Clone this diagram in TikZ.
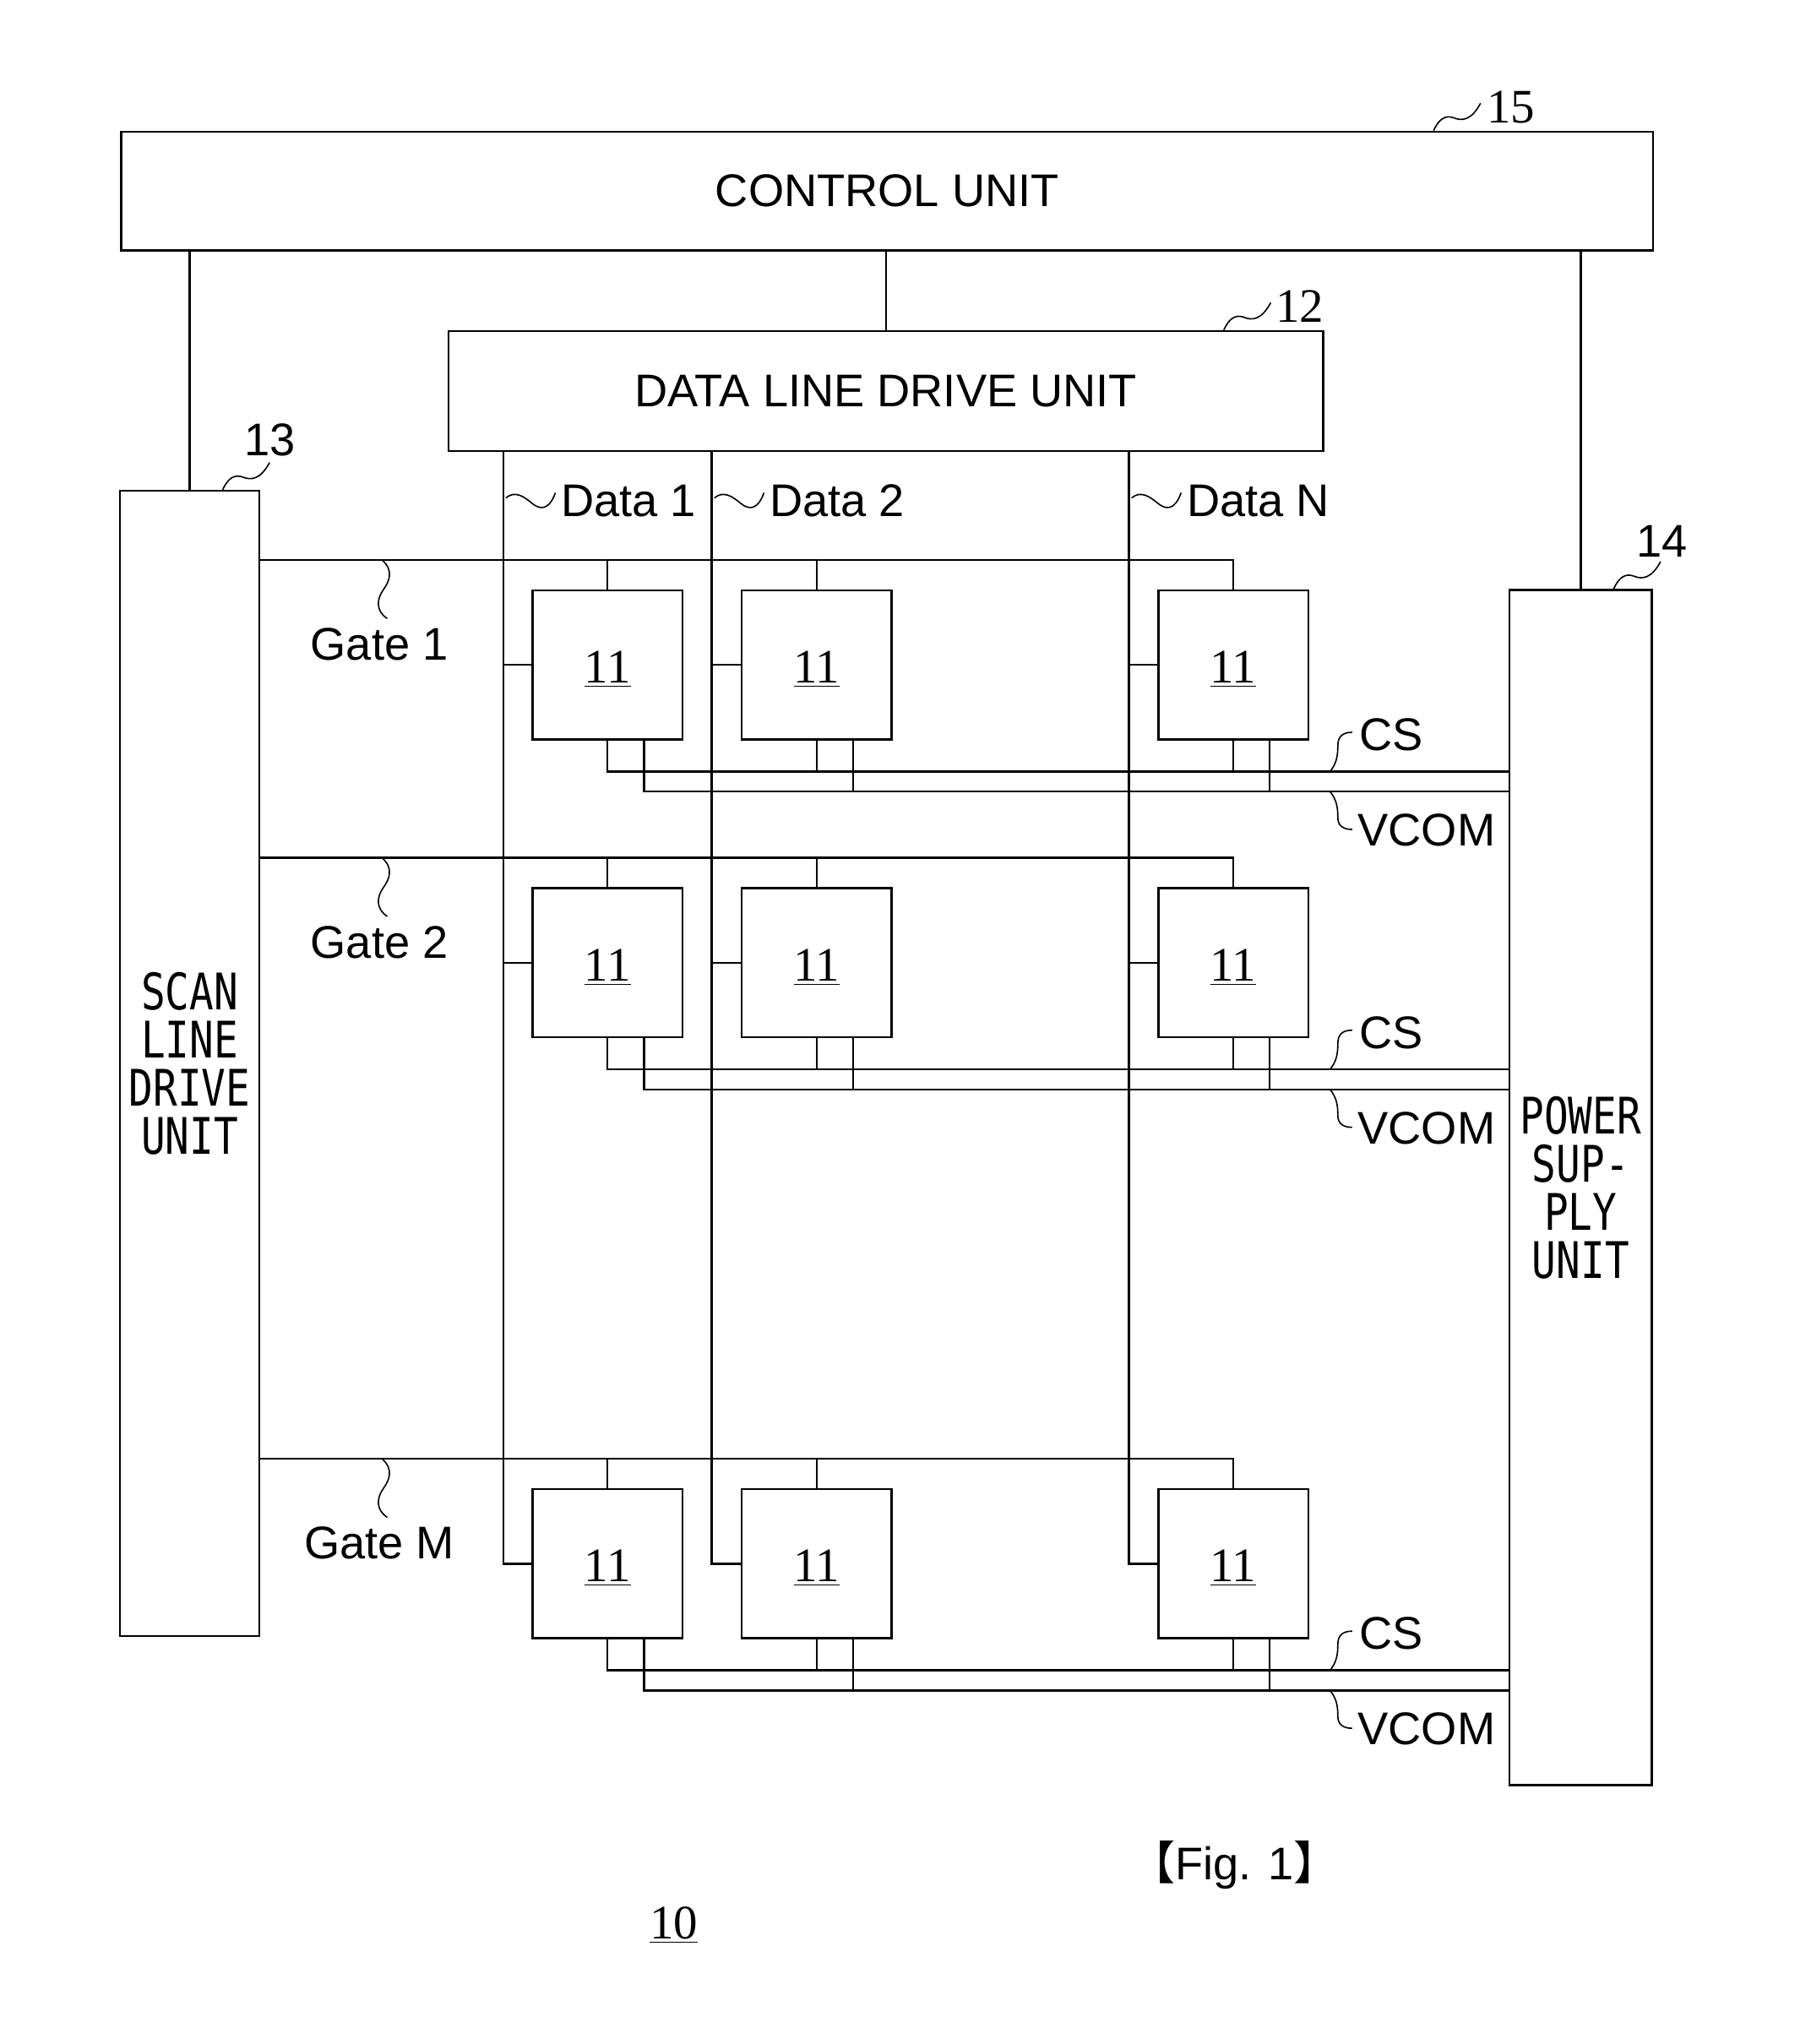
\documentclass[tikz,border=0pt]{standalone}
\usepackage{graphicx}
\usepackage{fontspec}
\setmainfont{Liberation Sans}
\newfontfamily\serifnum{Liberation Serif}
\newfontfamily\unitmono{DejaVu Sans Mono}
\newfontfamily\cjkfont{Noto Sans CJK JP}
\usetikzlibrary{calc}
\tikzset{
  box/.style={draw, line width=0.9pt, inner sep=0pt},
  wire/.style={line width=0.9pt},
  leader/.style={line width=0.6pt},
  lbl/.style={inner sep=0pt, font=\fontsize{20}{24}\selectfont},
  num/.style={inner sep=0pt, font=\serifnum\fontsize{21}{24}\selectfont},
  numsans/.style={inner sep=0pt, font=\fontsize{20}{24}\selectfont},
  cellbox/.style={box, minimum width=2.3cm, minimum height=2.29cm, text height=18pt, text depth=2pt, font=\serifnum\fontsize{21}{24}\selectfont},
  unitbox/.style={box, align=center, font=\unitmono\fontsize{22}{21}\selectfont},
  pics/numlead/.style={code={\draw[leader] (0,0) .. controls (4,-9) and (9,-12) .. (15,-10) .. controls (22,-7) and (29,-8) .. (36,-21);}},
  pics/datalead/.style={code={\draw[leader] (2,-1) .. controls (9,-7) and (16,-2) .. (22,3) .. controls (28,8) and (35,9) .. (40,-5);}},
  pics/gatelead/.style={code={\draw[leader] (0,0) .. controls (9,8) and (6,16) .. (1,23) .. controls (-4,30) and (-5,39) .. (4,45);}},
  pics/cslead/.style={code={\draw[leader] (0,0) .. controls (5,-6) and (6,-12) .. (6,-20) .. controls (6,-27) and (10,-30) .. (17,-30);}},
  pics/vclead/.style={code={\draw[leader] (0,0) .. controls (5,6) and (6,12) .. (6,20) .. controls (6,26) and (10,29) .. (17,29);}},
}
\begin{document}
\begin{tikzpicture}[x=0.02cm, y=-0.02cm]
\useasboundingbox (0,0) rectangle (1389,1568);

% main blocks
\node[box, minimum width=23.5cm, minimum height=1.82cm, font=\fontsize{20}{24}\selectfont] (ctrl) at (680.5,146.5) {CONTROL UNIT};
\node[box, minimum width=13.42cm, minimum height=1.84cm, font=\fontsize{20}{24}\selectfont] (dld) at (679.5,300) {DATA LINE DRIVE UNIT};
\node[unitbox, minimum width=2.14cm, minimum height=17.57cm] (sld) at (145.5,815.75)
  {\scalebox{0.8}[1]{SCAN}\\\scalebox{0.8}[1]{LINE}\\\scalebox{0.8}[1]{DRIVE}\\\scalebox{0.8}[1]{UNIT}};
\node[unitbox, minimum width=2.18cm, minimum height=18.34cm] (psu) at (1212.5,911)
  {\scalebox{0.8}[1]{POWER}\\\scalebox{0.8}[1]{SUP-}\\\scalebox{0.8}[1]{PLY}\\\scalebox{0.8}[1]{UNIT}};

% control connections
\draw[wire] (sld.north) -- (sld.north |- ctrl.south);
\draw[wire] (dld.north) -- (dld.north |- ctrl.south);
\draw[wire] (psu.north) -- (psu.north |- ctrl.south);

% reference numerals
\pic at ($(ctrl.north east)+(-169,0)$) {numlead};
\node[num] (n15) at (1159,82) {15};
\pic at ($(dld.north east)+(-77,0)$) {numlead};
\node[num] (n12) at (997,235) {12};
\pic at ($(sld.north east)+(-29,0)$) {numlead};
\node[numsans] (n13) at (207,337.5) {13};
\pic at ($(psu.north east)+(-30,0)$) {numlead};
\node[numsans] (n14) at (1275,415) {14};

% pixel cells
\foreach \rowid/\gy in {1/430.5, 2/659, M/1120} {
  \foreach \colid/\cx in {1/466, 2/626.5, N/946} {
    \node[cellbox] (c\rowid\colid) at (\cx,\gy+79.5) {\underline{11}};
  }
}

% data lines
\coordinate (d1) at (386,346);
\coordinate (d2) at (546,346);
\coordinate (dN) at (866,346);
\foreach \colid/\txt in {1/Data 1, 2/Data 2, N/Data N} {
  \draw[wire] (d\colid) |- (cM\colid.west);
  \draw[wire] (c1\colid.west) -- (c1\colid.west -| d\colid);
  \draw[wire] (c2\colid.west) -- (c2\colid.west -| d\colid);
  \pic at ($(d\colid)+(0,37)$) {datalead};
  \node[lbl, anchor=west] (dl\colid) at ($(d\colid)+(44,38)$) {\txt};
}

% gate, CS and VCOM lines per row
\foreach \rowid in {1,2,M} {
  \path (c\rowid1.north) ++(0,-22.5) coordinate (gt\rowid);
  \draw[wire] (sld.east |- gt\rowid) -| (c\rowid N.north);
  \draw[wire] (c\rowid1.north) -- (c\rowid1.north |- gt\rowid);
  \draw[wire] (c\rowid2.north) -- (c\rowid2.north |- gt\rowid);
  \pic at ($(gt\rowid)+(-173,0)$) {gatelead};
  \node[lbl] (gl\rowid) at ($(gt\rowid)+(-175,65)$) {Gate \rowid};
  \path (c\rowid1.south) ++(0,23.75) coordinate (cs\rowid) ++(0,15.5) coordinate (vc\rowid);
  \draw[wire] (c\rowid1.south) |- (psu.west |- cs\rowid);
  \draw[wire] (c\rowid2.south) -- (c\rowid2.south |- cs\rowid);
  \draw[wire] (c\rowid N.south) -- (c\rowid N.south |- cs\rowid);
  \draw[wire] ($(c\rowid1.south)+(28,0)$) |- (psu.west |- vc\rowid);
  \draw[wire] ($(c\rowid2.south)+(28,0)$) -- ($(c\rowid2.south |- vc\rowid)+(28,0)$);
  \draw[wire] ($(c\rowid N.south)+(28,0)$) -- ($(c\rowid N.south |- vc\rowid)+(28,0)$);
  \pic at ($(psu.west |- cs\rowid)+(-137,0)$) {cslead};
  \node[lbl, anchor=west] (csl\rowid) at ($(psu.west |- cs\rowid)+(-115,-28)$) {CS};
  \pic at ($(psu.west |- vc\rowid)+(-137,0)$) {vclead};
  \node[lbl, anchor=west] (vcl\rowid) at ($(psu.west |- vc\rowid)+(-116,29.5)$) {VCOM};
}

% figure caption and device number
\node[lbl] (fig) at (947,1431) {{\cjkfont 【}Fig. 1{\cjkfont 】}};
\node[num] (n10) at (517,1477) {\underline{10}};
\end{tikzpicture}
\end{document}
